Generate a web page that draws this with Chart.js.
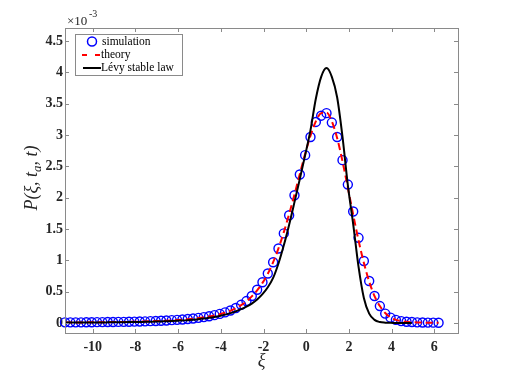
<!DOCTYPE html>
<html>
<head>
<meta charset="utf-8">
<script src="https://cdn.jsdelivr.net/npm/chart.js@4"></script>
<style>
html,body{margin:0;padding:0;background:#fff;}
canvas{display:block;}
</style>
</head>
<body>
<canvas id="c" width="506" height="375"></canvas>
<script>
// xi grid (shared by all series)
const xi = [-11.3,-11.05,-10.8,-10.55,-10.3,-10.05,-9.8,-9.55,-9.3,-9.05,
  -8.8,-8.55,-8.3,-8.05,-7.8,-7.55,-7.3,-7.05,-6.8,-6.55,
  -6.3,-6.05,-5.8,-5.55,-5.3,-5.05,-4.8,-4.55,-4.3,-4.05,
  -3.8,-3.55,-3.3,-3.05,-2.8,-2.55,-2.3,-2.05,-1.8,-1.55,
  -1.3,-1.05,-0.8,-0.55,-0.3,-0.05,0.2,0.45,0.7,0.95,
  1.2,1.45,1.7,1.95,2.2,2.45,2.7,2.95,3.2,3.45,
  3.7,3.95,4.2,4.45,4.7,4.95,5.2,5.45,5.7,5.95,6.2];
// values in units of 1e-3
const simulation = [0.01,0.01,0.01,0.01,0.012,0.012,0.013,0.014,0.015,0.016,
  0.017,0.018,0.02,0.022,0.024,0.026,0.029,0.032,0.036,0.04,
  0.045,0.05,0.056,0.063,0.072,0.082,0.094,0.108,0.125,0.145,
  0.17,0.2,0.24,0.29,0.35,0.43,0.53,0.65,0.79,0.97,
  1.19,1.43,1.72,2.04,2.37,2.68,2.97,3.21,3.31,3.35,
  3.2,2.97,2.6,2.21,1.78,1.36,0.99,0.67,0.43,0.27,
  0.15,0.085,0.05,0.03,0.02,0.015,0.01,0.008,0.006,0.005,0.004];
const theory = [0.008,0.008,0.009,0.009,0.01,0.01,0.011,0.012,0.013,0.014,
  0.015,0.016,0.018,0.02,0.022,0.024,0.027,0.03,0.033,0.037,
  0.042,0.047,0.053,0.06,0.068,0.078,0.09,0.104,0.12,0.14,
  0.165,0.195,0.235,0.285,0.345,0.425,0.52,0.64,0.785,0.97,
  1.19,1.45,1.74,2.05,2.38,2.7,2.99,3.22,3.35,3.36,
  3.22,2.95,2.58,2.16,1.73,1.32,0.96,0.66,0.43,0.27,
  0.16,0.09,0.05,0.03,0.018,0.012,0.008,0.006,0.004,0.003,0.002];
const levy = [0.006,0.006,0.007,0.007,0.008,0.008,0.009,0.009,0.01,0.011,
  0.012,0.013,0.014,0.015,0.017,0.018,0.02,0.022,0.025,0.028,
  0.031,0.035,0.04,0.045,0.052,0.06,0.07,0.082,0.096,0.113,
  0.133,0.157,0.186,0.22,0.26,0.31,0.375,0.46,0.57,0.72,
  0.95,1.24,1.57,1.93,2.3,2.68,3.08,3.58,3.93,4.07,
  3.93,3.6,2.97,2.2,1.58,0.9,0.4,0.15,0.05,0.015,
  0.005,0.002,0.001,0,0,0,null,null,null,null,null];
const xTicks = [-10,-8,-6,-4,-2,0,2,4,6];
const yTicks = [0,0.5,1,1.5,2,2.5,3,3.5,4,4.5];
const yTickLabels = ['0','0.5','1','1.5','2','2.5','3','3.5','4','4.5'];
const seriesLabels = ['simulation','theory','L\u00e9vy stable law'];

const pts = arr => xi.map((x,i)=>({x:x,y:arr[i]}));
const AX = '#8a8a8a';

const axesPlugin = {
  id:'axesBox',
  afterDraw(chart){
    const {ctx, chartArea:a, scales:{x,y}} = chart;
    ctx.save();
    ctx.strokeStyle = AX; ctx.lineWidth = 1;
    ctx.strokeRect(Math.round(a.left)+0.5, Math.round(a.top)+0.5, Math.round(a.right-a.left), Math.round(a.bottom-a.top));
    ctx.beginPath();
    xTicks.forEach(v=>{const p=Math.round(x.getPixelForValue(v))+0.5;
      ctx.moveTo(p,a.bottom); ctx.lineTo(p,a.bottom-4);
      ctx.moveTo(p,a.top); ctx.lineTo(p,a.top+4);});
    yTicks.forEach(v=>{const p=Math.round(y.getPixelForValue(v))+0.5;
      ctx.moveTo(a.left,p); ctx.lineTo(a.left+4,p);
      ctx.moveTo(a.right,p); ctx.lineTo(a.right-4,p);});
    ctx.stroke();
    // exponent label
    ctx.fillStyle = '#262626';
    ctx.textBaseline = 'alphabetic'; ctx.textAlign = 'left';
    ctx.font = '13px "Liberation Serif"';
    ctx.fillText('\u00d710', 67, 25);
    ctx.font = '10px "Liberation Serif"';
    ctx.fillText('-3', 89, 17);
    // y title
    ctx.save();
    ctx.translate(37, 178);
    ctx.rotate(-Math.PI/2);
    ctx.font = 'italic 18px "Liberation Serif"';
    const parts = [['P(\u03be, t',18,0],['a',13,4],[', t)',18,0]];
    let w = 0;
    parts.forEach(p=>{ctx.font='italic '+p[1]+'px "Liberation Serif"'; w+=ctx.measureText(p[0]).width;});
    let cx = -w/2;
    parts.forEach(p=>{ctx.font='italic '+p[1]+'px "Liberation Serif"'; ctx.fillText(p[0],cx,p[2]); cx+=ctx.measureText(p[0]).width;});
    ctx.restore();
    // x title
    ctx.font = 'italic 18px "Liberation Serif"';
    ctx.textAlign = 'center';
    ctx.fillText('\u03be', (a.left+a.right)/2 + 0, 366);
    // legend
    ctx.fillStyle = '#fff';
    ctx.fillRect(75.5,34.5,107,41);
    ctx.strokeStyle = AX; ctx.strokeRect(75.5,34.5,107,41);
    ctx.textAlign='left'; ctx.textBaseline='middle';
    ctx.font = '11.5px "Liberation Serif"'; ctx.fillStyle='#000';
    ctx.strokeStyle='#0000ff'; ctx.lineWidth=1.5;
    ctx.beginPath(); ctx.arc(92,41.5,4.5,0,2*Math.PI); ctx.stroke();
    ctx.fillText(seriesLabels[0],102,42);
    ctx.strokeStyle='#ff0000'; ctx.lineWidth=2;
    ctx.beginPath(); ctx.moveTo(82,55); ctx.lineTo(87,55); ctx.moveTo(95,55); ctx.lineTo(100,55); ctx.stroke();
    ctx.fillText(seriesLabels[1],101,55);
    ctx.strokeStyle='#000'; ctx.lineWidth=2;
    ctx.beginPath(); ctx.moveTo(83,68); ctx.lineTo(101,68); ctx.stroke();
    ctx.fillText(seriesLabels[2],101,68);
    ctx.restore();
  }
};

new Chart(document.getElementById('c'), {
  type:'scatter',
  data:{datasets:[
    {label:seriesLabels[0], data:pts(simulation), showLine:false, pointStyle:'circle',
      pointRadius:4.5, pointBorderColor:'#0000ff', pointBackgroundColor:'rgba(0,0,0,0)',
      pointBorderWidth:1.4, order:3, clip:false},
    {label:seriesLabels[1], data:pts(theory), showLine:true, pointRadius:0, borderColor:'#ff0000',
      borderWidth:2, borderDash:[7,4], cubicInterpolationMode:'monotone', order:2},
    {label:seriesLabels[2], data:pts(levy), showLine:true, pointRadius:0, borderColor:'#000000',
      borderWidth:2, cubicInterpolationMode:'monotone', spanGaps:false, order:1}
  ]},
  options:{
    responsive:false, animation:false, devicePixelRatio:1,
    layout:{padding:{top:28,right:48,left:0,bottom:0}},
    plugins:{legend:{display:false}, tooltip:{enabled:false}},
    scales:{
      x:{type:'linear', min:-11.3, max:7.11,
        grid:{display:false, drawTicks:false}, border:{display:false},
        afterBuildTicks:s=>{s.ticks = xTicks.map(v=>({value:v}));},
        afterFit:s=>{s.height=42;},
        ticks:{padding:6, color:'#262626', font:{family:'Liberation Serif', size:14, weight:'bold'},
          maxRotation:0, autoSkip:false, callback:v=>String(v)}},
      y:{type:'linear', min:-0.16, max:4.71,
        grid:{display:false, drawTicks:false}, border:{display:false},
        afterBuildTicks:s=>{s.ticks = yTicks.map(v=>({value:v}));},
        afterFit:s=>{s.width=65;},
        ticks:{padding:2, color:'#262626', font:{family:'Liberation Serif', size:14, weight:'bold'},
          autoSkip:false, callback:(v)=>{const i=yTicks.indexOf(v); return i>=0?yTickLabels[i]:'';}}}
    }
  },
  plugins:[axesPlugin]
});
</script>
</body>
</html>
